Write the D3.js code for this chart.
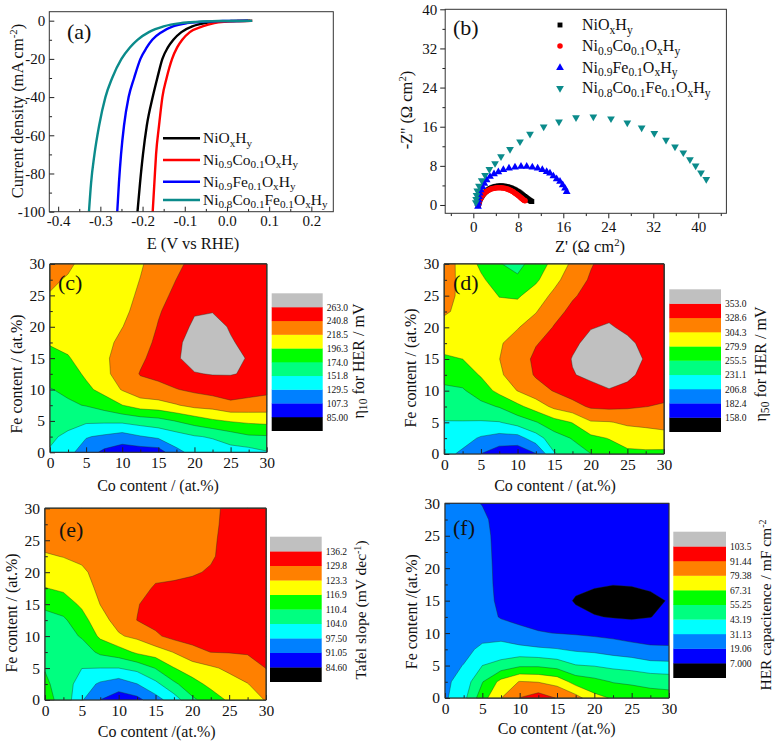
<!DOCTYPE html>
<html><head><meta charset="utf-8">
<script src="https://cdn.jsdelivr.net/npm/d3@7"></script>
<style>
body{margin:0;background:#fff;}
svg text{font-family:"Liberation Serif","Times New Roman",serif;fill:#111;}
</style></head>
<body><svg id="fig" width="775" height="745"></svg>
<script>
// ---------------- DATA ----------------
// (a) LSV curves: current density levels (mA cm-2) and potentials (V vs RHE)
const lsvJ = [-100,-85,-70,-55,-40,-30,-20,-14,-10,-6,-3,-1.3,-0.6,-0.2,0];
const lsvE_NiOxHy = [-0.212,-0.206,-0.199,-0.190,-0.176,-0.165,-0.153,-0.140,-0.127,-0.108,-0.082,-0.052,-0.025,0.010,0.055];
const lsvE_NiCo = [-0.176,-0.172,-0.168,-0.161,-0.153,-0.143,-0.130,-0.118,-0.106,-0.088,-0.058,-0.030,-0.005,0.025,0.060];
const lsvE_NiFe = [-0.260,-0.256,-0.251,-0.244,-0.233,-0.220,-0.205,-0.190,-0.177,-0.155,-0.128,-0.095,-0.060,-0.010,0.050];
const lsvE_NiCoFe = [-0.327,-0.322,-0.314,-0.303,-0.288,-0.272,-0.250,-0.230,-0.212,-0.185,-0.150,-0.110,-0.070,-0.020,0.060];
const lsvTicksX = [-0.4,-0.3,-0.2,-0.1,0,0.1,0.2];
const lsvTicksY = [-100,-80,-60,-40,-20,0];

// (b) Nyquist data
const eisRe_NiOxHy = [0.9,0.95,1.0,1.07,1.15,1.26,1.38,1.5,1.64,1.8,1.95,2.12,2.32,2.52,2.74,2.96,3.2,3.45,3.7,3.96,4.22,4.48,4.75,5.0,5.28,5.54,5.8,6.05,6.3,6.55,6.8,7.04,7.28,7.52,7.74,7.96,8.16,8.36,8.56,8.76,8.94,9.12,9.3,9.46,9.62,9.77,9.9,10.03,10.15,10.28,10.4];
const eisIm_NiOxHy = [0.0,0.25,0.5,0.75,1.0,1.25,1.5,1.75,2.0,2.23,2.45,2.66,2.85,3.03,3.2,3.36,3.5,3.62,3.72,3.8,3.85,3.88,3.9,3.9,3.88,3.85,3.8,3.73,3.65,3.56,3.45,3.33,3.2,3.05,2.9,2.75,2.6,2.43,2.25,2.07,1.9,1.75,1.6,1.45,1.3,1.17,1.05,0.95,0.85,0.77,0.7];
const eisRe_NiCo = [0.85,0.9,0.95,1.02,1.1,1.2,1.3,1.42,1.55,1.7,1.85,2.02,2.2,2.4,2.6,2.82,3.05,3.27,3.5,3.75,4.0,4.25,4.5,4.75,5.0,5.25,5.5,5.75,6.0,6.22,6.45,6.68,6.9,7.1,7.3,7.5,7.7,7.88,8.05,8.22,8.4,8.55,8.7,8.83,8.95,9.08,9.2];
const eisIm_NiCo = [-0.1,0.15,0.4,0.65,0.9,1.15,1.4,1.63,1.85,2.08,2.3,2.48,2.65,2.8,2.95,3.08,3.2,3.3,3.38,3.44,3.48,3.51,3.52,3.52,3.5,3.46,3.42,3.36,3.28,3.19,3.08,2.96,2.82,2.68,2.52,2.36,2.2,2.04,1.88,1.72,1.55,1.4,1.25,1.12,1.0,0.92,0.85];
const eisRe_NiFe = [0.83,0.85,0.89,1.01,1.13,1.31,1.6,1.96,2.37,2.97,3.68,4.45,5.34,6.34,7.41,8.48,9.49,10.49,11.44,12.27,13.04,13.63,14.23,14.82,15.41,15.89,16.3,16.6];
const eisIm_NiFe = [-0.3,0.35,1.03,1.7,2.4,3.07,3.75,4.4,5.1,5.8,6.35,6.75,7.2,7.5,7.7,7.85,7.85,7.7,7.5,7.2,6.8,6.5,5.9,5.3,4.8,4.1,3.4,2.7];
const eisRe_NiCoFe = [0.45,0.5,0.58,0.7,1.01,1.49,2.08,2.85,3.86,4.92,6.52,8.3,10.08,12.51,15.23,18.26,21.34,24.48,27.38,29.93,32.18,34.26,35.86,37.34,38.52,39.53,40.48,41.42];
const eisIm_NiCoFe = [0.5,1.2,2.0,2.9,3.9,5.0,6.1,7.3,8.5,9.9,11.4,12.95,14.5,16.0,17.0,17.9,18.05,17.65,16.8,15.8,14.65,13.3,11.9,10.7,9.3,8.0,6.6,5.25];
const eisTicks = [0,8,16,24,32,40];

const seriesNames = ["NiO_{x}H_{y}","Ni_{0.9}Co_{0.1}O_{x}H_{y}","Ni_{0.9}Fe_{0.1}O_{x}H_{y}","Ni_{0.8}Co_{0.1}Fe_{0.1}O_{x}H_{y}"];

// composition grid (at.%), rows = Fe content, columns = Co content
const gridCo = [0,2.5,5,7.5,10,12.5,15,17.5,20,22.5,25,27.5,30];
const gridFe = [0,2.5,5,7.5,10,12.5,15,17.5,20,22.5,25,27.5,30];
const compTicks = [0,5,10,15,20,25,30];

// (c) eta10 (mV), row i = Fe gridFe[i]
const eta10 = [
 [150,136,118,102,94,95,96,124,136,138,142,143,150],
 [155,148,131,126,120,128,134,142,150,154,163,171,172],
 [161,158,156,156,157,162,166,175,184,193,198,201,203],
 [167,171,175,183,196,207,210,217,225,227,235,233,231],
 [173,178,191,204,220,232,235,240,245,250,253,249,246],
 [182,186,200,214,227,242,246,253,262,264,264,261,254],
 [190,195,204,215,227,237,249,261,270,273,271,261,255],
 [198,201,206,212,224,233,245,259,271,274,265,257,254],
 [204,205,207,210,218,229,242,253,267,271,261,254,253],
 [211,210,207,207,214,225,239,249,261,262,256,253,252],
 [217,213,207,206,211,222,235,245,255,257,254,252,252],
 [223,216,207,205,208,219,232,241,251,254,253,252,252],
 [230,223,210,207,210,216,229,237,246,251,252,252,252]];
const eta10Levels = [85.00,107.3,129.5,151.8,174.0,196.3,218.5,240.8,263.0];
const eta10Labels = ["85.00","107.3","129.5","151.8","174.0","196.3","218.5","240.8","263.0"];

// (d) eta50 (mV)
const eta50 = [
 [214,202,182,168,165,181,229,243,255,265,274,275,274],
 [221,216,204,197,197,220,245,257,274,281,291,293,295],
 [230,230,229,230,241,254,270,281,302,303,308,310,313],
 [241,242,249,257,274,291,310,320,332,334,332,329,326],
 [251,253,267,287,305,319,330,340,347,352,348,342,337],
 [263,267,282,301,315,331,338,352,357,360,357,348,342],
 [277,280,292,304,316,334,340,354,362,364,363,351,343],
 [287,291,297,302,313,327,337,349,359,363,357,348,342],
 [297,297,299,297,303,315,330,342,352,355,349,343,341],
 [307,299,298,288,290,303,321,334,343,348,343,341,340],
 [312,299,293,279,277,291,310,326,336,341,341,340,338],
 [314,298,284,268,260,276,297,318,331,338,340,338,338],
 [315,297,275,257,248,267,287,309,327,337,338,338,338]];
const eta50Levels = [158.0,182.4,206.8,231.1,255.5,279.9,304.3,328.6,353.0];
const eta50Labels = ["158.0","182.4","206.8","231.1","255.5","279.9","304.3","328.6","353.0"];

// (e) Tafel slope (mV dec-1)
const tafel = [
 [112.3,108.5,98.1,91.0,87.8,89.1,94.9,100.7,109.1,113.6,117.8,120.7,123.6],
 [111.4,107.8,100.7,96.5,94.0,97.4,102.3,109.1,114.6,118.5,120.7,123.1,126.5],
 [110.1,107.5,104.1,104.0,104.0,105.9,110.7,116.7,120.1,122.3,124.6,126.8,129.9],
 [109.1,107.5,107.2,111.7,113.9,118.1,120.1,123.6,127.8,129.9,130.1,130.4,131.7],
 [108.8,107.8,111.0,118.1,122.7,124.6,128.8,131.7,132.3,133.0,133.0,132.7,132.7],
 [109.4,109.4,114.3,121.4,125.2,129.9,131.7,133.3,133.9,134.3,134.3,133.6,133.3],
 [111.0,113.6,118.1,123.4,126.5,129.4,132.3,133.6,134.6,134.9,134.9,134.3,133.6],
 [116.7,118.1,120.1,124.9,127.2,128.8,130.1,130.7,132.7,133.6,134.6,134.3,133.6],
 [119.8,120.7,122.0,125.9,127.8,128.5,129.1,128.8,128.8,130.7,133.6,133.9,133.6],
 [122.7,123.5,124.9,126.5,127.8,128.5,128.8,129.1,128.8,128.8,132.7,133.3,133.3],
 [125.2,125.6,126.5,127.2,128.1,128.5,128.8,129.1,129.1,128.8,131.7,132.7,133.0],
 [126.2,126.5,127.2,127.5,128.1,128.5,128.8,129.1,129.1,128.8,131.0,132.3,132.7],
 [126.5,126.8,127.2,127.5,128.1,128.5,128.8,129.1,129.1,128.8,130.7,132.0,132.3]];
const tafelLevels = [84.60,91.05,97.50,104.0,110.4,116.9,123.3,129.8,136.2];
const tafelLabels = ["84.60","91.05","97.50","104.0","110.4","116.9","123.3","129.8","136.2"];

// (f) HER capacitance (mF cm-2)
const capac = [
 [29.3,39.6,62.5,79.1,91.7,97.5,90.8,84.2,70.9,66.1,62.5,60.7,60.1],
 [28.7,35.9,54.6,70.9,80.0,78.8,75.1,62.5,58.9,54.6,53.4,51.6,50.4],
 [28.1,31.4,43.2,48.0,53.4,53.4,50.4,43.8,42.6,40.2,38.4,35.3,34.7],
 [27.5,28.7,32.9,34.7,34.7,32.9,31.7,29.3,28.1,25.7,23.9,21.5,20.9],
 [26.3,26.9,28.1,27.5,21.5,19.7,18.8,17.9,16.6,15.4,13.0,12.4,13.0],
 [25.7,25.7,25.7,17.9,16.6,15.4,14.2,10.6,7.6,6.4,5.8,6.8,9.4],
 [25.1,25.1,24.5,16.0,14.8,13.6,12.4,5.8,3.4,2.8,2.8,4.6,7.6],
 [25.1,24.5,23.9,15.4,14.2,13.0,11.8,10.0,8.2,7.2,7.6,8.8,9.4],
 [25.1,23.9,23.3,15.4,14.2,13.0,11.8,11.2,10.6,10.6,10.6,10.6,10.6],
 [24.5,23.3,22.7,15.4,14.2,13.0,11.8,11.2,11.2,11.2,11.2,11.2,11.2],
 [24.5,22.7,22.1,15.4,14.2,13.0,12.4,11.8,11.2,11.2,11.2,11.2,11.2],
 [23.9,22.1,20.9,15.4,14.2,13.0,12.4,11.8,11.2,11.2,11.2,11.2,11.2],
 [23.9,21.5,18.7,15.4,14.2,13.0,12.4,11.8,11.2,11.2,11.2,11.2,11.2]];
const capacLevels = [7.000,19.06,31.13,43.19,55.25,67.31,79.38,91.44,103.5];
const capacLabels = ["7.000","19.06","31.13","43.19","55.25","67.31","79.38","91.44","103.5"];

const palette = ["#000000","#0000ff","#0080ff","#00ffff","#00ff80","#00ff00","#ffff00","#ff8000","#ff0000","#c0c0c0"];
const lineColors = ["#000000","#ff0000","#0000ff","#0b8b8b"];

// ---------------- HELPERS ----------------
const svg = d3.select("#fig");
function rich(t, s){
  const fs = +t.attr("font-size");
  let off = 0;
  s.split(/(_\{[^}]*\}|\^\{[^}]*\})/).filter(Boolean).forEach(p=>{
    let target=0, txt=p, size=fs;
    if(p.startsWith("_{")){target=fs*0.22; txt=p.slice(2,-1); size=fs*0.72;}
    else if(p.startsWith("^{")){target=-fs*0.38; txt=p.slice(2,-1); size=fs*0.65;}
    t.append("tspan").attr("font-size",size).attr("dy",target-off).text(txt);
    off=target;
  });
  return t;
}
function label(g, s, cx, cy, fs, rot){
  const t = g.append("text").attr("font-size",fs).attr("text-anchor","middle");
  if(rot) t.attr("transform",`translate(${cx+0.35*fs},${cy}) rotate(-90)`);
  else t.attr("x",cx).attr("y",cy+0.35*fs);
  return rich(t,s);
}
function axes(g, xs, ys, o){
  const fmtX = o.fmtX || (d=>String(d)), fmtY = o.fmtY || (d=>String(d));
  const tin = o.inward ? -1 : 1;
  const xa = g.append("g").attr("transform",`translate(0,${ys.range()[0]})`)
    .call(d3.axisBottom(xs).tickValues(o.xt).tickSize(tin*o.tl).tickSizeOuter(0).tickPadding(o.pad).tickFormat(fmtX));
  xa.select(".domain").remove();
  xa.selectAll("text").attr("font-size",o.fs).attr("font-family",null);
  if(o.xm){ const m=g.append("g").attr("transform",`translate(0,${ys.range()[0]})`)
    .call(d3.axisBottom(xs).tickValues(o.xm).tickSize(tin*o.tl*0.55).tickSizeOuter(0).tickFormat(""));
    m.select(".domain").remove(); }
  const ya = g.append("g").attr("transform",`translate(${xs.range()[0]},0)`)
    .call(d3.axisLeft(ys).tickValues(o.yt).tickSize(tin*o.tl).tickSizeOuter(0).tickPadding(o.pad).tickFormat(fmtY));
  ya.select(".domain").remove();
  ya.selectAll("text").attr("font-size",o.fs).attr("font-family",null);
  if(o.ym){ const m=g.append("g").attr("transform",`translate(${xs.range()[0]},0)`)
    .call(d3.axisLeft(ys).tickValues(o.ym).tickSize(tin*o.tl*0.55).tickSizeOuter(0).tickFormat(""));
    m.select(".domain").remove(); }
  g.selectAll(".tick line").attr("stroke","#222");
  g.append("rect").attr("x",xs.range()[0]).attr("y",ys.range()[1])
   .attr("width",xs.range()[1]-xs.range()[0]).attr("height",ys.range()[0]-ys.range()[1])
   .attr("fill","none").attr("stroke","#333").attr("stroke-width",1);
}

// ---------------- PANEL (a) ----------------
{
  const g = svg.append("g");
  const xs = d3.scaleLinear().domain([-0.421,0.252]).range([49.3,333.3]);
  const ys = d3.scaleLinear().domain([-100,4.7]).range([211.7,11.7]);
  const series = [lsvE_NiOxHy, lsvE_NiCo, lsvE_NiFe, lsvE_NiCoFe];
  const line = d3.line().x(d=>xs(d[0])).y(d=>ys(d[1])).curve(d3.curveMonotoneX);
  g.append("clipPath").attr("id","clipA").append("rect")
    .attr("x",49.3).attr("y",11.7).attr("width",284).attr("height",200);
  series.forEach((E,k)=>{
    g.append("path").attr("clip-path","url(#clipA)").attr("d",line(E.map((e,i)=>[e,lsvJ[i]])))
     .attr("fill","none").attr("stroke",lineColors[k]).attr("stroke-width",2.4);
  });
  axes(g, xs, ys, {xt:lsvTicksX, yt:lsvTicksY, xm:[-0.35,-0.25,-0.15,-0.05,0.05,0.15], ym:[-90,-70,-50,-30,-10],
    tl:5, pad:4, fs:15, inward:true, fmtX:d=>d.toFixed(1)});
  label(g,"Current density (mA cm^{-2})",17,111,16.5,true);
  label(g,"E (V vs RHE)",193,243,16.5,false);
  g.append("text").attr("x",67).attr("y",39).attr("font-size",22).text("(a)");
  const ly=[138.3,160,181.7,200];
  seriesNames.forEach((s,k)=>{
    g.append("line").attr("x1",163).attr("x2",200).attr("y1",ly[k]).attr("y2",ly[k])
      .attr("stroke",lineColors[k]).attr("stroke-width",2.4);
    const t=g.append("text").attr("x",203).attr("y",ly[k]+5).attr("font-size",15.5);
    rich(t,s);
  });
}

// ---------------- PANEL (b) ----------------
{
  const g = svg.append("g");
  const xs = d3.scaleLinear().domain([-5,45]).range([445.2,726.4]);
  const ys = d3.scaleLinear().domain([-1.7,40]).range([213.3,9.3]);
  const data = [[eisRe_NiOxHy,eisIm_NiOxHy],[eisRe_NiCo,eisIm_NiCo],[eisRe_NiFe,eisIm_NiFe],[eisRe_NiCoFe,eisIm_NiCoFe]];
  const syms = [d3.symbol().type(d3.symbolSquare).size(24), d3.symbol().type(d3.symbolCircle).size(24),
                d3.symbol().type(d3.symbolTriangle).size(26), d3.symbol().type(d3.symbolTriangle).size(26)];
  const rots = [0,0,0,180];
  data.forEach(([re,im],k)=>{
    g.selectAll(null).data(re.map((r,i)=>[r,im[i]])).join("path")
     .attr("d",syms[k]()).attr("fill",lineColors[k])
     .attr("transform",d=>`translate(${xs(d[0])},${ys(d[1])}) rotate(${rots[k]})`);
  });
  axes(g, xs, ys, {xt:eisTicks, yt:eisTicks, xm:[-4,4,12,20,28,36,44], ym:[4,12,20,28,36],
    tl:5, pad:3, fs:15, inward:false});
  label(g,"-Z'' (\u03A9 cm^{2})",406.7,110,16.5,true);
  label(g,"Z' (\u03A9 cm^{2})",590,246,16.5,false);
  g.append("text").attr("x",453).attr("y",35).attr("font-size",22).text("(b)");
  const ly=[25,46,67.7,88.3];
  seriesNames.forEach((s,k)=>{
    g.append("path").attr("d",syms[k]()).attr("fill",lineColors[k])
      .attr("transform",`translate(560,${ly[k]}) rotate(${rots[k]})`);
    const t=g.append("text").attr("x",582).attr("y",ly[k]+5).attr("font-size",16);
    rich(t,s);
  });
}

// ---------------- CONTOUR PANELS ----------------
function contourPanel(o){
  const g = svg.append("g");
  const xs = d3.scaleLinear().domain([0,30]).range([o.x0,o.x1]);
  const ys = d3.scaleLinear().domain([0,30]).range([o.y1,o.y0]);
  const nx = gridCo.length, ny = gridFe.length;
  const ix = d3.scaleLinear().domain([0,nx-1]).range([gridCo[0],gridCo[nx-1]]);
  const iy = d3.scaleLinear().domain([0,ny-1]).range([gridFe[0],gridFe[ny-1]]);
  const conts = d3.contours().size([nx,ny]).thresholds(o.levels)(o.grid.flat());
  const tr = d3.geoTransform({point:function(x,y){
    const cx=Math.max(0,Math.min(nx-1,x-0.5)), cy=Math.max(0,Math.min(ny-1,y-0.5));
    this.stream.point(xs(ix(cx)), ys(iy(cy)));
  }});
  const path = d3.geoPath(tr);
  g.append("rect").attr("x",o.x0).attr("y",o.y0).attr("width",o.x1-o.x0).attr("height",o.y1-o.y0).attr("fill",palette[0]);
  conts.forEach((c,i)=>{
    g.append("path").attr("d",path(c)).attr("fill",palette[i+1])
     .attr("stroke","#1b2b1b").attr("stroke-width",0.5).attr("stroke-opacity",0.75);
  });
  axes(g, xs, ys, {xt:compTicks, yt:compTicks, xm:[2.5,7.5,12.5,17.5,22.5,27.5], ym:[2.5,7.5,12.5,17.5,22.5,27.5],
    tl:5, pad:5, fs:15.5, inward:true});
  label(g,o.xlab,o.xl[0],o.xl[1],16,false);
  label(g,o.ylab,o.yl[0],o.yl[1],16,true);
  g.append("text").attr("x",o.tag[0]).attr("y",o.tag[1]).attr("font-size",22).text(o.tagText);
  const cb=o.cb, h=(cb.y1-cb.y0)/palette.length;
  palette.forEach((col,i)=>g.append("rect").attr("x",cb.x).attr("y",cb.y1-(i+1)*h).attr("width",cb.w).attr("height",h+0.3).attr("fill",col));
  o.labels.forEach((lab,i)=>g.append("text").attr("x",cb.x+cb.w+4).attr("y",cb.y1-(i+1)*h+3.6).attr("font-size",9.5).text(lab));
  label(g,o.cbTitle,o.cbt[0],o.cbt[1],o.cbfs||16,true);
}

contourPanel({grid:eta10, levels:eta10Levels, labels:eta10Labels, x0:50, x1:266.7, y0:264, y1:452.3,
  xlab:"Co content / (at.%)", ylab:"Fe content / (at.%)", xl:[158,485], yl:[16.7,374], tag:[58,290], tagText:"(c)",
  cb:{x:271.7,w:51,y0:293.3,y1:430.7}, cbTitle:"\u03B7_{10} for HER / mV", cbt:[358,361]});
contourPanel({grid:eta50, levels:eta50Levels, labels:eta50Labels, x0:444.3, x1:664, y0:264, y1:454,
  xlab:"Co content / (at.%)", ylab:"Fe content / (at.%)", xl:[555,485], yl:[410,368], tag:[453,290], tagText:"(d)",
  cb:{x:669.3,w:51.7,y0:289.3,y1:431.7}, cbTitle:"\u03B7_{50} for HER / mV", cbt:[760,364]});
contourPanel({grid:tafel, levels:tafelLevels, labels:tafelLabels, x0:45, x1:266, y0:508.3, y1:700,
  xlab:"Co content /(at.%)", ylab:"Fe content / (at.%)", xl:[156.7,731.7], yl:[11.7,613], tag:[59,537], tagText:"(e)",
  cb:{x:270,w:51.7,y0:536.7,y1:681.7}, cbTitle:"Tafel slope (mV dec^{-1})", cbt:[361,610], cbfs:15.5});
contourPanel({grid:capac, levels:capacLevels, labels:capacLabels, x0:445, x1:669, y0:503.3, y1:698,
  xlab:"Co content /(at.%)", ylab:"Fe content /(at.%)", xl:[556.7,728.3], yl:[411.7,611.7], tag:[453,535], tagText:"(f)",
  cb:{x:673.3,w:52.7,y0:531.7,y1:677.7}, cbTitle:"HER capacitence / mF cm^{-2}", cbt:[766,605], cbfs:15.5});
</script>
</body></html>
